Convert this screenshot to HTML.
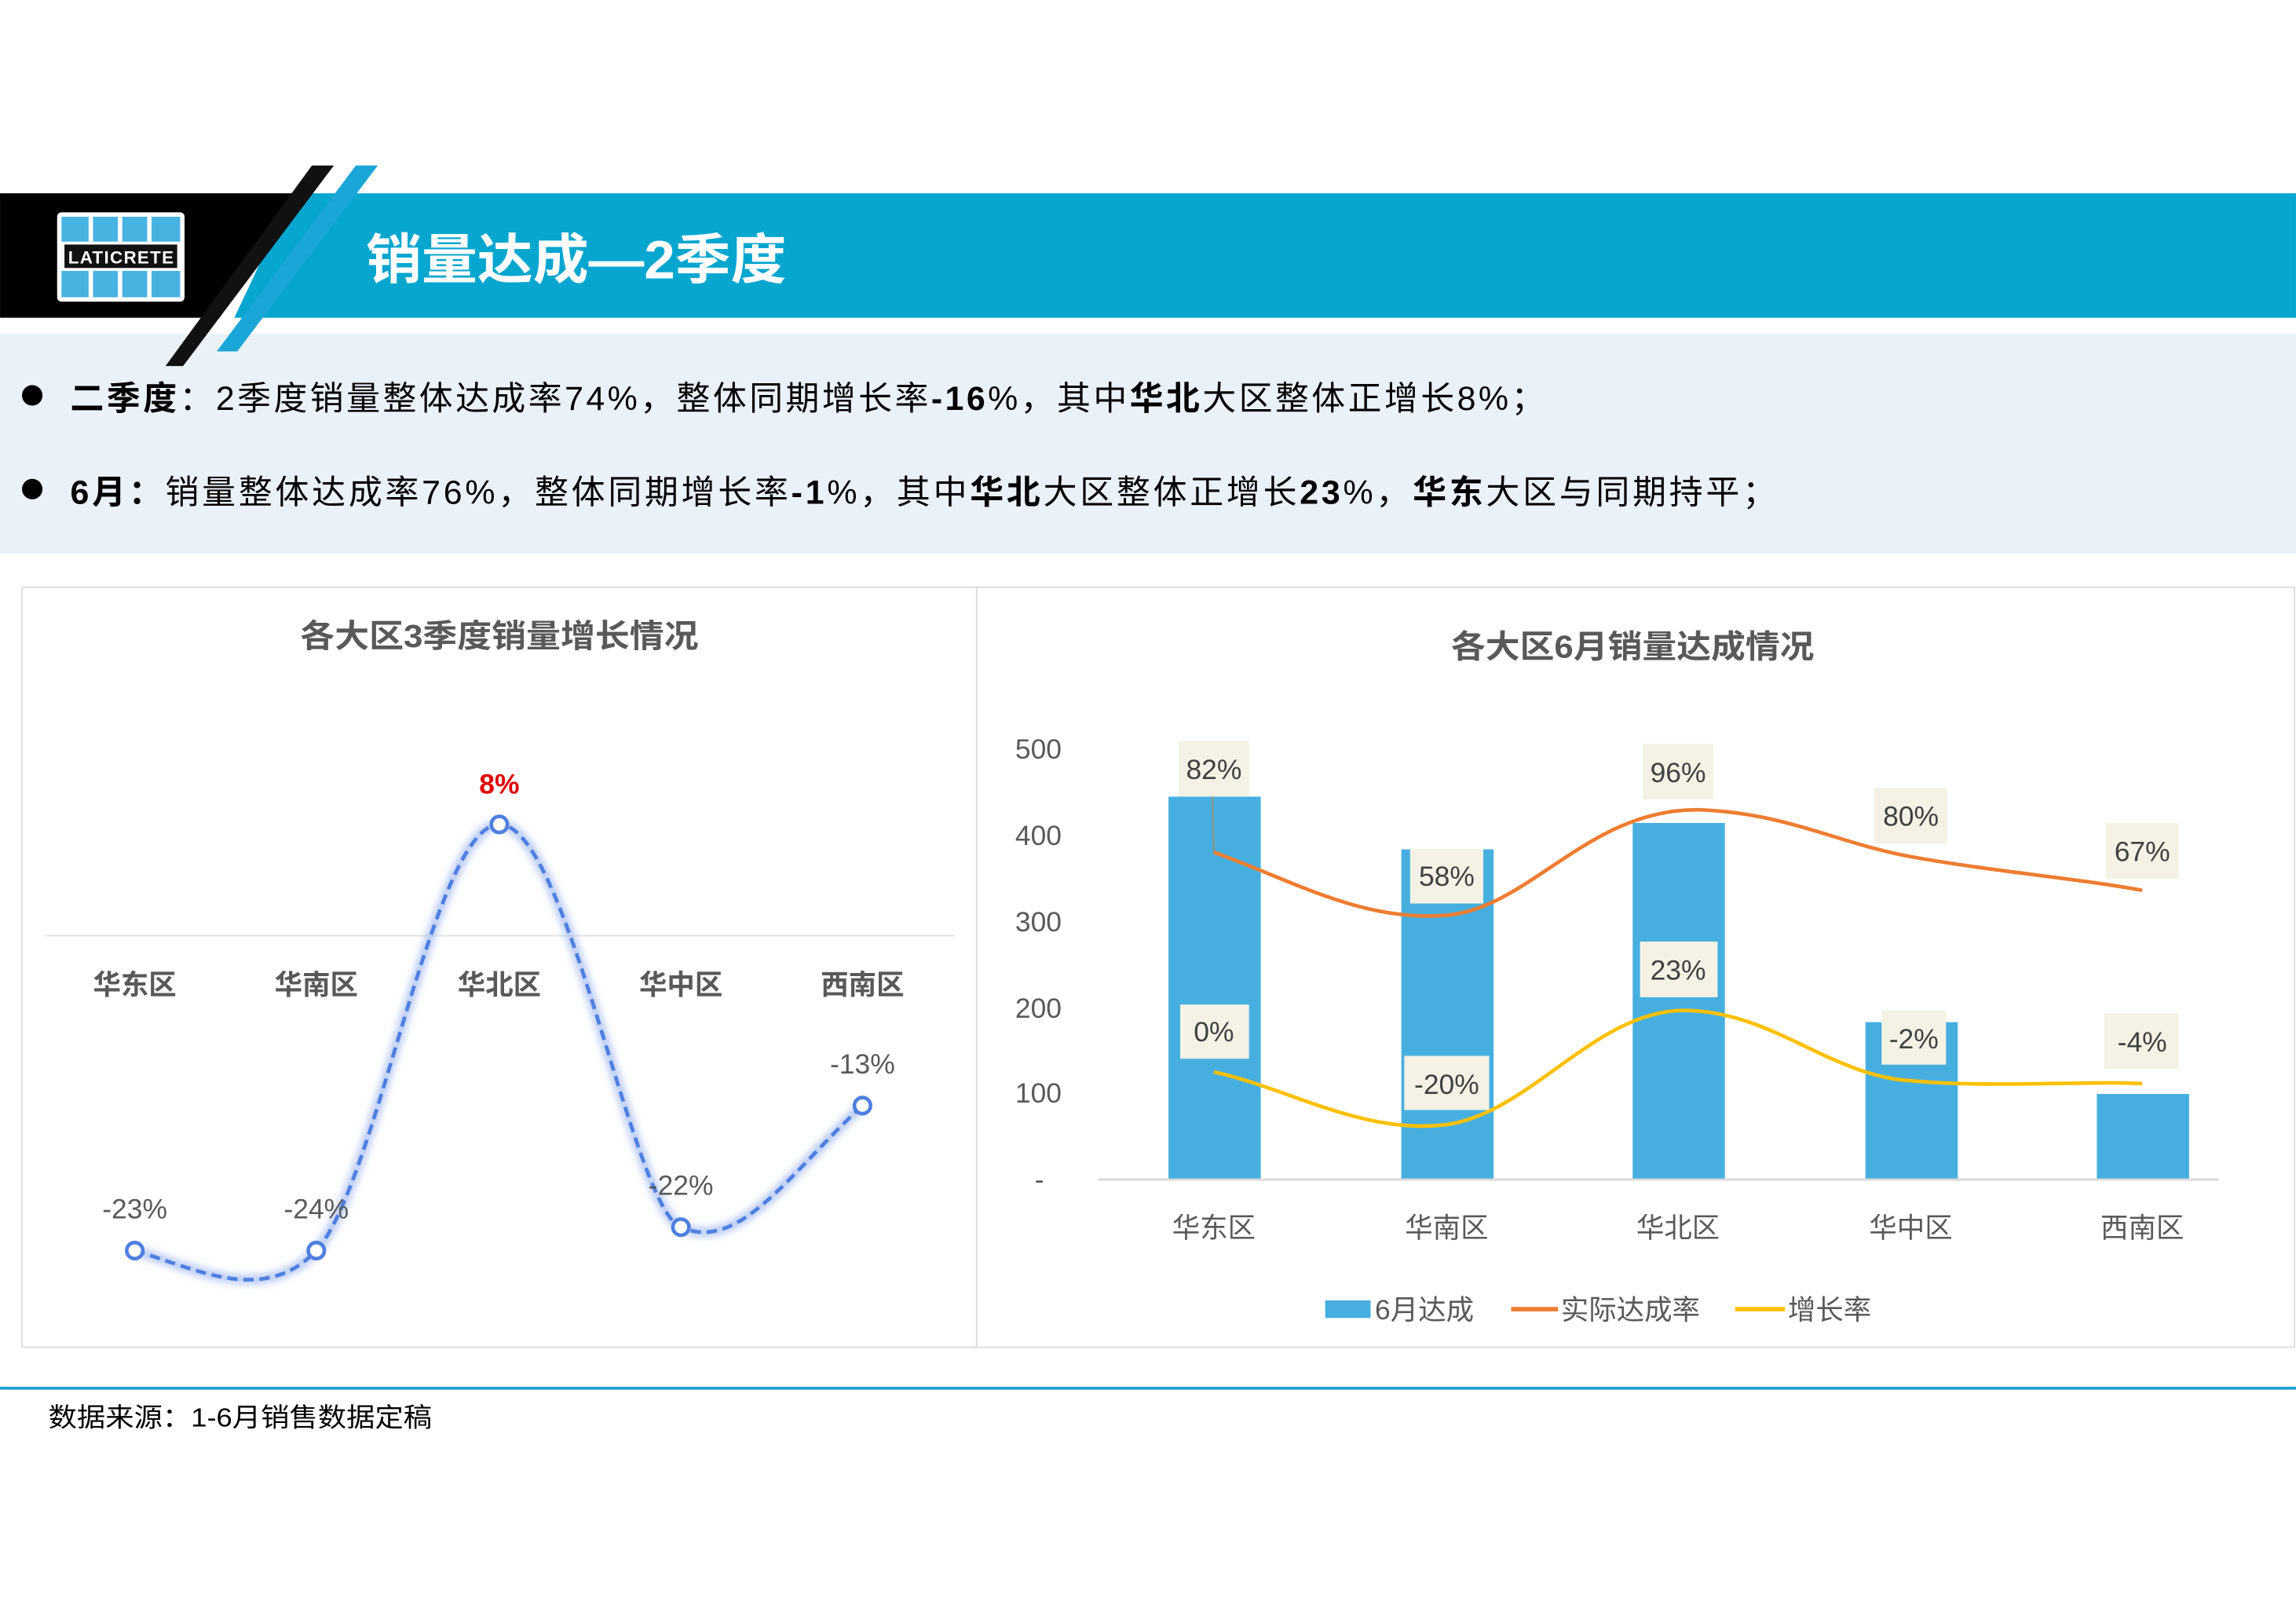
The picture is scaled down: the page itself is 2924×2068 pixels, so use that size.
<!DOCTYPE html>
<html><head><meta charset="utf-8"><style>
html,body{margin:0;padding:0;background:#fff;}
svg{display:block;}
text{font-family:"Liberation Sans","Noto Sans CJK SC",sans-serif;}
</style></head><body>
<svg width="2924" height="2068" viewBox="0 0 1568 1109" xmlns="http://www.w3.org/2000/svg">
<defs>
<filter id="glow" x="-10%" y="-10%" width="120%" height="120%"><feGaussianBlur stdDeviation="2.5"/></filter>
</defs>
<rect width="1568" height="1109" fill="#fff"/>
<rect x="0" y="228" width="1568" height="150" fill="#eaf1f9"/>
<polygon points="200,132 1568,132 1568,217 160,217" fill="#06a6cf"/>
<polygon points="0,132 205,132 150,217 0,217" fill="#000"/>
<polygon points="213,113 228,113 125,250 113,250" fill="#111"/>
<polygon points="243,113 258,113 162,240 148,240" fill="#1aa6d6"/>
<rect x="39" y="145" width="87" height="61" rx="3" fill="#fff"/>
<rect x="42" y="148" width="81" height="55" fill="#47b3e0"/>
<g stroke="#fff" stroke-width="3"><line x1="62" y1="148" x2="62" y2="165"/><line x1="82" y1="148" x2="82" y2="165"/><line x1="102" y1="148" x2="102" y2="165"/>
<line x1="62" y1="185" x2="62" y2="203"/><line x1="82" y1="185" x2="82" y2="203"/><line x1="102" y1="185" x2="102" y2="203"/></g>
<rect x="42" y="165" width="81" height="20" fill="#fff"/>
<rect x="44" y="167" width="77" height="16" fill="#111"/>
<text x="82.5" y="180" font-size="12" fill="#fff" text-anchor="middle" font-weight="bold" textLength="72">LATICRETE</text>
<text x="250" y="190" font-size="37" fill="#fff" font-weight="bold" textLength="287" lengthAdjust="spacingAndGlyphs">销量达成—2季度</text>
<circle cx="22" cy="270" r="7" fill="#000"/>
<circle cx="22" cy="334" r="7" fill="#000"/>
<text x="48" y="280" font-size="23" fill="#000" textLength="1007" lengthAdjust="spacing"><tspan font-weight="bold">二季度</tspan>：2季度销量整体达成率74%，整体同期增长率<tspan font-weight="bold">-16</tspan>%，其中<tspan font-weight="bold">华北</tspan>大区整体正增长8%；</text>
<text x="48" y="344" font-size="23" fill="#000" textLength="1165" lengthAdjust="spacing"><tspan font-weight="bold">6月：</tspan>销量整体达成率76%，整体同期增长率<tspan font-weight="bold">-1</tspan>%，其中<tspan font-weight="bold">华北</tspan>大区整体正增长<tspan font-weight="bold">23</tspan>%，<tspan font-weight="bold">华东</tspan>大区与同期持平；</text>
<rect x="15" y="401" width="652" height="519" fill="#fff" stroke="#dcdcdc" stroke-width="1"/>
<rect x="667" y="401" width="900" height="519" fill="#fff" stroke="#dcdcdc" stroke-width="1"/>
<text x="341" y="442" font-size="22" fill="#595959" font-weight="bold" text-anchor="middle" textLength="272" lengthAdjust="spacingAndGlyphs">各大区3季度销量增长情况</text>
<line x1="30" y1="639" x2="652" y2="639" stroke="#e3e3e3" stroke-width="1"/>
<g font-size="19" fill="#595959" font-weight="bold" text-anchor="middle">
<text x="92" y="679">华东区</text><text x="216" y="679">华南区</text><text x="341" y="679">华北区</text><text x="465" y="679">华中区</text><text x="589" y="679">西南区</text></g>
<path d="M92,854 C133,866 180,892 216,854 C258,808 296,563 341,563 C388,563 432,826 465,838 C505,856 540,800 589,755" fill="none" stroke="#9fb7f0" stroke-width="6" filter="url(#glow)" opacity="0.8"/>
<path d="M92,854 C133,866 180,892 216,854 C258,808 296,563 341,563 C388,563 432,826 465,838 C505,856 540,800 589,755" fill="none" stroke="#4e7fe0" stroke-width="2.5" stroke-dasharray="7,4"/>
<g fill="#fff" stroke="#4e7fe0" stroke-width="2.5">
<circle cx="92" cy="854" r="5.5"/><circle cx="216" cy="854" r="5.5"/><circle cx="341" cy="563" r="5.5"/><circle cx="465" cy="838" r="5.5"/><circle cx="589" cy="755" r="5.5"/></g>
<g font-size="19" fill="#595959" text-anchor="middle">
<text x="92" y="832">-23%</text><text x="216" y="832">-24%</text><text x="465" y="816">-22%</text><text x="589" y="733">-13%</text></g>
<text x="341" y="542" font-size="19" fill="#e00000" font-weight="bold" text-anchor="middle">8%</text>
<text x="1115" y="449" font-size="22" fill="#595959" font-weight="bold" text-anchor="middle" textLength="248" lengthAdjust="spacingAndGlyphs">各大区6月销量达成情况</text>
<g font-size="19" fill="#595959" text-anchor="end">
<text x="725" y="518">500</text><text x="725" y="577">400</text><text x="725" y="636">300</text><text x="725" y="695">200</text><text x="725" y="753">100</text><text x="713" y="812">-</text></g>
<g fill="#46afe0">
<rect x="798" y="544" width="63" height="261"/><rect x="957" y="580" width="63" height="225"/><rect x="1115" y="562" width="63" height="243"/><rect x="1274" y="698" width="63" height="107"/><rect x="1432" y="747" width="63" height="58"/></g>
<line x1="750" y1="805.5" x2="1515" y2="805.5" stroke="#d9d9d9" stroke-width="1.5"/>
<line x1="828" y1="544" x2="829" y2="582" stroke="#a09070" stroke-width="1"/>
<path d="M829,582 C880,600 930,630 988,625 C1045,620 1085,552 1160,553 C1220,555 1255,576 1305,585 C1360,595 1420,600 1463,608" fill="none" stroke="#ed7d31" stroke-width="2.5"/>
<path d="M829,732 C880,743 930,775 988,768 C1045,760 1090,690 1150,690 C1210,690 1250,735 1305,738 C1360,743 1420,738 1463,740" fill="none" stroke="#ffc000" stroke-width="2.5"/>
<g fill="#f4f2e4">
<rect x="805" y="506" width="48" height="38"/><rect x="963" y="580" width="50" height="37"/><rect x="1122" y="508" width="48" height="38"/><rect x="1280" y="538" width="50" height="38"/><rect x="1438" y="562" width="50" height="38"/>
<rect x="806" y="686" width="47" height="37"/><rect x="959" y="721" width="58" height="37"/><rect x="1120" y="643" width="53" height="38"/><rect x="1285" y="690" width="44" height="37"/><rect x="1437" y="692" width="51" height="38"/></g>
<g font-size="19" fill="#404040" text-anchor="middle">
<text x="829" y="532">82%</text><text x="988" y="605">58%</text><text x="1146" y="534">96%</text><text x="1305" y="564">80%</text><text x="1463" y="588">67%</text>
<text x="829" y="711">0%</text><text x="988" y="747">-20%</text><text x="1146" y="669">23%</text><text x="1307" y="716">-2%</text><text x="1463" y="718">-4%</text></g>
<g font-size="19" fill="#595959" text-anchor="middle">
<text x="829" y="845">华东区</text><text x="988" y="845">华南区</text><text x="1146" y="845">华北区</text><text x="1305" y="845">华中区</text><text x="1463" y="845">西南区</text></g>
<rect x="905" y="888" width="31" height="12" fill="#46afe0"/>
<text x="939" y="901" font-size="19" fill="#595959">6月达成</text>
<line x1="1032" y1="894" x2="1064" y2="894" stroke="#ed7d31" stroke-width="3"/>
<text x="1066" y="901" font-size="19" fill="#595959">实际达成率</text>
<line x1="1185" y1="894" x2="1219" y2="894" stroke="#ffc000" stroke-width="3"/>
<text x="1221" y="901" font-size="19" fill="#595959">增长率</text>
<line x1="0" y1="948" x2="1568" y2="948" stroke="#1ba1d5" stroke-width="2"/>
<text x="33" y="974" font-size="18" fill="#000" textLength="262" lengthAdjust="spacingAndGlyphs">数据来源：1-6月销售数据定稿</text>
</svg>
</body></html>
